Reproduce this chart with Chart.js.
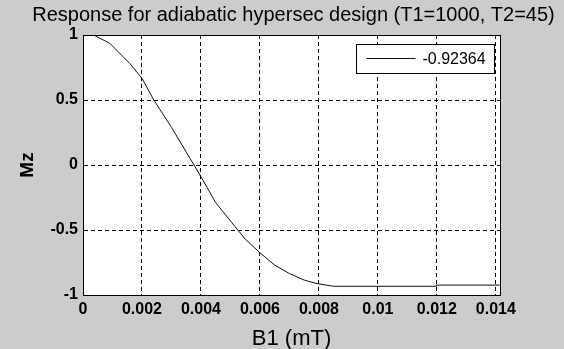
<!DOCTYPE html>
<html>
<head>
<meta charset="utf-8">
<script src="https://cdn.jsdelivr.net/npm/chart.js@4/dist/chart.umd.min.js"></script>
<style>
    html, body { margin: 0; padding: 0; background: #cccccc; }
    #wrap { width: 564px; height: 349px; }
</style>
</head>
<body>
<div id="wrap"><canvas id="chart" width="564" height="349"></canvas></div>
<script>
// B1 field (mT) and resulting Mz
const b1Values = [0.00036, 0.00091, 0.00159, 0.0020, 0.0024, 0.0030, 0.0035, 0.0040, 0.0045,
                  0.0050, 0.0055, 0.0060, 0.0065, 0.0070, 0.0075, 0.0079, 0.0082, 0.0085,
                  0.01197, 0.01198, 0.01414];
const mzValues = [1.0, 0.936, 0.78, 0.667, 0.50, 0.29, 0.10, -0.09, -0.29,
                  -0.43, -0.57, -0.675, -0.77, -0.835, -0.885, -0.91, -0.922, -0.933,
                  -0.933, -0.92364, -0.92364];
const seriesLabel = '-0.92364';
const chartTitle = 'Response for adiabatic hypersec design (T1=1000, T2=45)';

const xTicks = [0, 0.002, 0.004, 0.006, 0.008, 0.01, 0.012, 0.014];
const xTickLabels = ['0', '0.002', '0.004', '0.006', '0.008', '0.01', '0.012', '0.014'];
const yTicks = [-1, -0.5, 0, 0.5, 1];
const yTickLabels = ['-1', '-0.5', '0', '0.5', '1'];

const FONT = "'Liberation Sans', Arial, Helvetica, sans-serif";

// white plot area + solid frame on all four sides
const axesBox = {
    id: 'axesBox',
    beforeDraw(chart) {
        const { ctx, chartArea: a } = chart;
        ctx.save();
        ctx.fillStyle = '#ffffff';
        ctx.fillRect(a.left, a.top, a.right - a.left, a.bottom - a.top);
        ctx.restore();
    },
    afterDatasetsDraw(chart) {
        const { ctx, chartArea: a } = chart;
        const l = Math.round(a.left) + 0.5, r = Math.round(a.right) + 0.5;
        const t = Math.round(a.top) + 0.5, b = Math.round(a.bottom) + 0.5;
        ctx.save();
        ctx.strokeStyle = '#000';
        ctx.lineWidth = 1;
        ctx.strokeRect(l, t, r - l, b - t);
        ctx.restore();
    }
};

// title centred over the plot, allowed to run wider than it
const wideTitle = {
    id: 'wideTitle',
    afterDraw(chart) {
        const { ctx, chartArea: a } = chart;
        ctx.save();
        ctx.font = '20px ' + FONT;
        ctx.fillStyle = '#000';
        ctx.textAlign = 'center';
        ctx.textBaseline = 'alphabetic';
        ctx.fillText(chartTitle, (a.left + a.right) / 2 + 2, a.top - 14);
        ctx.restore();
    }
};

// boxed legend in the upper right corner, MATLAB style
const boxLegend = {
    id: 'boxLegend',
    afterDraw(chart) {
        const { ctx, chartArea: a } = chart;
        const ds = chart.data.datasets[0];
        ctx.save();
        ctx.font = '16px ' + FONT;
        const tw = ctx.measureText(ds.label).width;
        const w = Math.round(10 + 49 + 7 + tw + 9), h = 29;
        const x = Math.round(a.right - 6 - w) + 0.5, y = Math.round(a.top + 9) + 0.5;
        ctx.fillStyle = '#fff';
        ctx.fillRect(x, y, w, h);
        ctx.strokeStyle = '#000';
        ctx.lineWidth = 1;
        ctx.strokeRect(x, y, w, h);
        ctx.beginPath();
        ctx.moveTo(x + 10, y + 14);
        ctx.lineTo(x + 59, y + 14);
        ctx.strokeStyle = ds.borderColor;
        ctx.stroke();
        ctx.fillStyle = '#000';
        ctx.textBaseline = 'middle';
        ctx.fillText(ds.label, x + 66, y + h / 2 + 1);
        ctx.restore();
    }
};

new Chart(document.getElementById('chart').getContext('2d'), {
    type: 'line',
    data: {
        datasets: [{
            label: seriesLabel,
            data: b1Values.map((b, i) => ({ x: b, y: mzValues[i] })),
            borderColor: '#111111',
            borderWidth: 1,
            pointRadius: 0,
            tension: 0,
            fill: false
        }]
    },
    options: {
        responsive: false,
        animation: false,
        layout: { padding: { left: 0, right: 64, top: 35, bottom: 0 } },
        plugins: {
            legend: { display: false },
            tooltip: { enabled: false },
            title: { display: false }
        },
        scales: {
            x: {
                type: 'linear',
                min: 0,
                max: 0.01414,
                afterFit: (scale) => { scale.height = 54; },
                afterBuildTicks: (scale) => { scale.ticks = xTicks.map(v => ({ value: v })); },
                ticks: {
                    color: '#000',
                    font: { family: FONT, size: 16, weight: 'bold' },
                    padding: 5,
                    maxRotation: 0,
                    autoSkip: false,
                    callback: (v) => xTickLabels[xTicks.indexOf(v)]
                },
                grid: { color: '#000', lineWidth: 1, drawTicks: false },
                border: { color: '#000', width: 1, dash: [4, 3] },
                title: {
                    display: true,
                    text: 'B1 (mT)',
                    color: '#000',
                    font: { family: FONT, size: 22, weight: 'normal' },
                    padding: { top: 0, bottom: -3 }
                }
            },
            y: {
                min: -1,
                max: 1,
                afterFit: (scale) => { scale.width = 83; },
                afterBuildTicks: (scale) => { scale.ticks = yTicks.map(v => ({ value: v })); },
                ticks: {
                    color: '#000',
                    font: { family: FONT, size: 16, weight: 'bold' },
                    padding: 5,
                    autoSkip: false,
                    callback: (v) => yTickLabels[yTicks.indexOf(v)]
                },
                grid: { color: '#000', lineWidth: 1, drawTicks: false },
                border: { color: '#000', width: 1, dash: [4, 3] },
                title: {
                    display: true,
                    text: 'Mz',
                    color: '#000',
                    font: { family: FONT, size: 19, weight: 'bold' },
                    padding: { top: 16, bottom: 0 }
                }
            }
        }
    },
    plugins: [axesBox, wideTitle, boxLegend]
});
</script>
</body>
</html>
